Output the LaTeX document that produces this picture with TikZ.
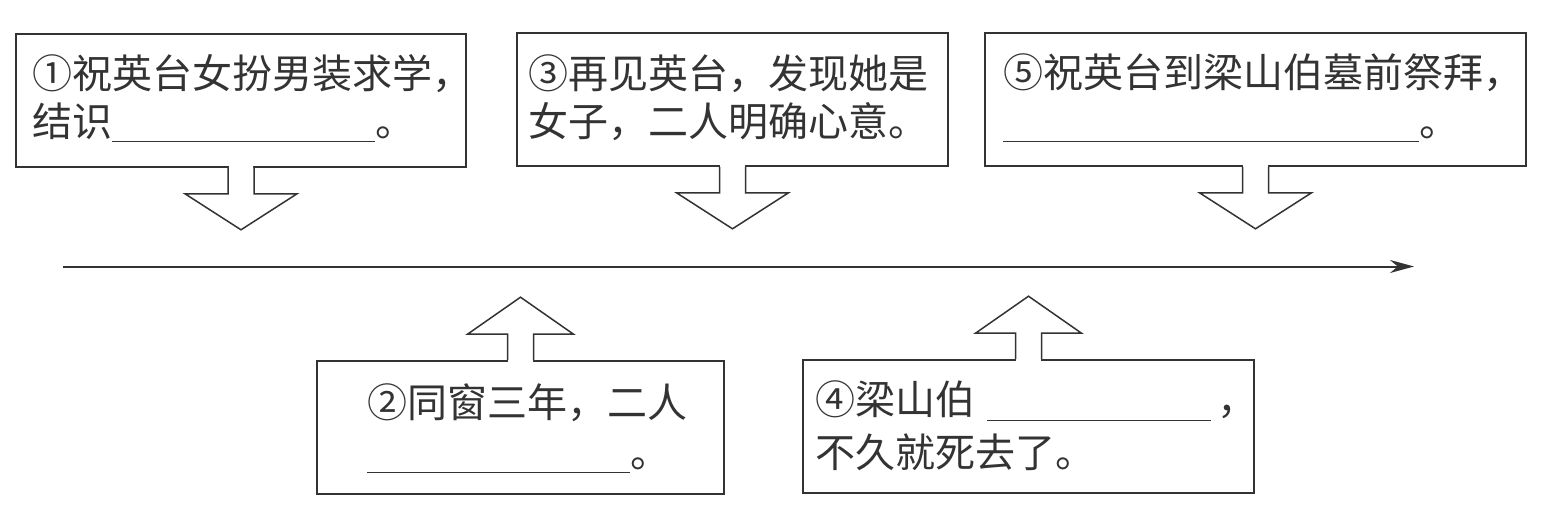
\documentclass[tikz,border=0pt]{standalone}
\usepackage{fontspec}
\newfontfamily\cjk{Noto Sans CJK SC}
\usetikzlibrary{arrows.meta,calc}
\definecolor{ink}{HTML}{333333}
\newcommand\blkdown[1]{%
  \fill[white] ($(#1.south)+(-12.3,-1.5)$) rectangle ($(#1.south)+(12.3,1.5)$);
  \draw[blk] ($(#1.south)+(-13,0)$) -- ++(0,26) -- ++(-43,0) -- ($(#1.south)+(0,62)$)
     -- ($(#1.south)+(56,26)$) -- ($(#1.south)+(13,26)$) -- ($(#1.south)+(13,0)$);}
\newcommand\blkup[1]{%
  \fill[white] ($(#1.north)+(-12.3,-1.5)$) rectangle ($(#1.north)+(12.3,1.5)$);
  \draw[blk] ($(#1.north)+(-13,0)$) -- ++(0,-26) -- ++(-40,0) -- ($(#1.north)+(0,-63)$)
     -- ($(#1.north)+(53,-26)$) -- ($(#1.north)+(13,-26)$) -- ($(#1.north)+(13,0)$);}
\begin{document}
\begin{tikzpicture}[x=1pt,y=-1pt,
  box/.style={draw=ink,line width=1.6pt,rectangle,inner sep=0pt,minimum height=133pt},
  blk/.style={draw=ink,line width=1.5pt,line join=miter,fill=white},
  txt/.style={anchor=base west,inner sep=0pt,text=ink,font=\cjk\fontsize{40pt}{48pt}\selectfont},
  tline/.style={draw=ink,line width=2pt,-{Stealth[length=24pt,width=13pt]}}]
\useasboundingbox (0,0) rectangle (1550,522);
% boxes
\node[box,minimum width=450pt] (b1) at (241,100.5) {};
\node[box,minimum width=431pt] (b3) at (732.5,99.5) {};
\node[box,minimum width=541pt] (b5) at (1255.5,99.5) {};
\node[box,minimum width=407pt] (b2) at (520.5,427.5) {};
\node[box,minimum width=451pt] (b4) at (1028.5,426.5) {};
% block arrows
\blkdown{b1}
\blkdown{b3}
\blkdown{b5}
\blkup{b2}
\blkup{b4}
% timeline
\coordinate (tlS) at (63,266.5);
\coordinate (tlE) at (1414,266.5);
\draw[tline] (tlS) -- (tlE);
% texts
\node[txt] (t1a) at (32,88) {①祝英台女扮男装求学，};
\node[txt] (t1b) at (32,136) {结识\rule[-6pt]{263pt}{1.2pt}。};
\node[txt] (t3a) at (528,88) {③再见英台，发现她是};
\node[txt] (t3b) at (528,136) {女子，二人明确心意。};
\node[txt] (t5a) at (1003,87) {⑤祝英台到梁山伯墓前祭拜，};
\node[txt] (t5b) at (1003,136) {\rule[-6pt]{416pt}{1.2pt}。};
\node[txt] (t2a) at (367,417) {②同窗三年，二人};
\node[txt] (t2b) at (367,467) {\rule[-6pt]{263pt}{1.2pt}。};
\node[txt] (t4a) at (815,414) {④梁山伯\hspace{12pt}\rule[-7pt]{224pt}{1.2pt}\hspace{6pt}，};
\node[txt] (t4b) at (815,467) {不久就死去了。};
\end{tikzpicture}
\end{document}
